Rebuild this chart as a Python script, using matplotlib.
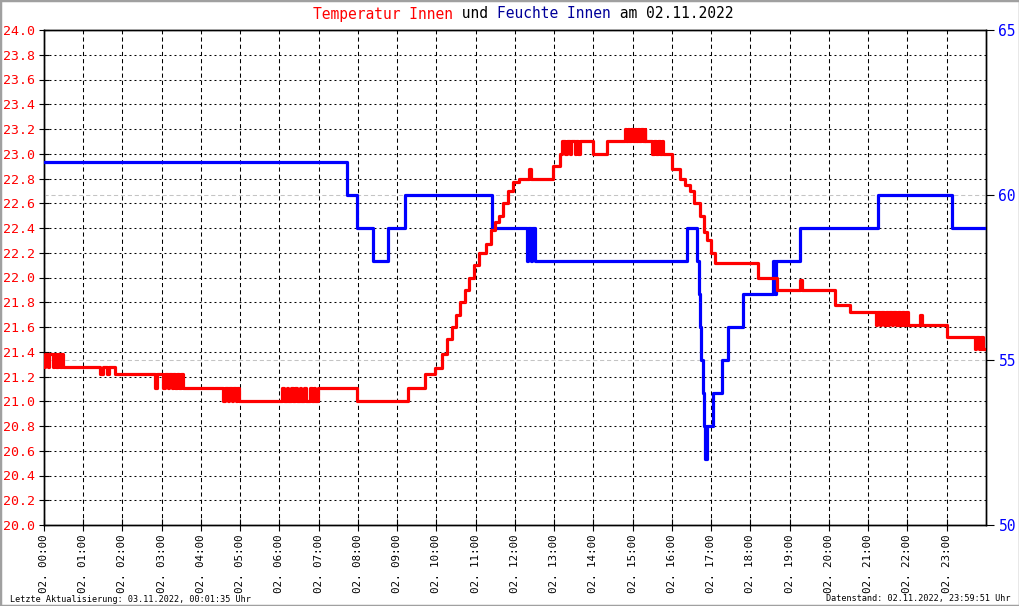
import matplotlib
matplotlib.use("Agg")
import matplotlib.pyplot as plt
from matplotlib.transforms import offset_copy
from matplotlib.patches import Rectangle

# Temperatur Innen (Grad C), Zeit in Minuten seit 00:00, Stufenverlauf
temp_min = [0, 1, 6, 8, 13, 15, 19, 21, 25, 27, 29,
            86, 90, 97, 100, 109,
            170, 172, 182, 185, 189, 191, 195, 197, 201, 203, 207, 209, 213,
            274, 277, 281, 283, 287, 289, 293, 295, 298,
            364, 367, 371, 373, 377, 380, 384, 386, 391, 393, 397, 400, 407, 409, 413, 415, 419,
            479, 557, 583, 598, 609, 616, 624, 630, 636, 644, 650, 657, 665,
            676, 683, 690, 696, 702, 709, 717, 726, 741, 745,
            778, 789, 792, 797, 799, 804, 806, 811, 813, 817, 819,
            839, 861, 888, 890, 893, 895, 898, 900, 903, 905, 908, 910, 913, 915, 918, 919,
            930, 932, 936, 938, 942, 944, 947,
            960, 972, 980, 988, 994, 1003, 1009, 1014, 1020, 1026,
            1092, 1121, 1156, 1159, 1209, 1232,
            1272, 1274, 1278, 1280, 1284, 1287, 1290, 1292, 1296, 1298, 1302, 1305, 1309, 1311, 1315, 1317, 1321,
            1339, 1342, 1381, 1423, 1425, 1430, 1432, 1436, 1440]
temp_val = [21.28, 21.38, 21.28, 21.38, 21.28, 21.38, 21.28, 21.38, 21.28, 21.38, 21.28,
            21.22, 21.28, 21.22, 21.28, 21.22,
            21.11, 21.22, 21.11, 21.22, 21.11, 21.22, 21.11, 21.22, 21.11, 21.22, 21.11, 21.22, 21.11,
            21.0, 21.11, 21.0, 21.11, 21.0, 21.11, 21.0, 21.11, 21.0,
            21.11, 21.0, 21.11, 21.0, 21.11, 21.0, 21.11, 21.0, 21.11, 21.0, 21.11, 21.0, 21.11, 21.0, 21.11, 21.0, 21.11,
            21.0, 21.11, 21.22, 21.27, 21.38, 21.5, 21.6, 21.7, 21.8, 21.9, 22.0, 22.1, 22.2,
            22.27, 22.38, 22.45, 22.5, 22.6, 22.7, 22.77, 22.8, 22.88, 22.8,
            22.9, 23.0, 23.1, 23.0, 23.1, 23.0, 23.1, 23.0, 23.1, 23.0, 23.1,
            23.0, 23.1, 23.2, 23.1, 23.2, 23.1, 23.2, 23.1, 23.2, 23.1, 23.2, 23.1, 23.2, 23.1, 23.2, 23.1,
            23.0, 23.1, 23.0, 23.1, 23.0, 23.1, 23.0,
            22.88, 22.8, 22.75, 22.7, 22.6, 22.5, 22.37, 22.3, 22.2, 22.12,
            22.0, 21.9, 21.98, 21.9, 21.78, 21.72,
            21.62, 21.72, 21.62, 21.72, 21.62, 21.72, 21.62, 21.72, 21.62, 21.72, 21.62, 21.72, 21.62, 21.72, 21.62, 21.72, 21.62,
            21.7, 21.62, 21.52, 21.42, 21.52, 21.42, 21.52, 21.42, 21.42]

# Feuchte Innen (%)
hum_min = [0, 463, 479, 503, 526, 552, 685,
           738, 740, 744, 746, 750,
           983, 998, 1001, 1003, 1005, 1007, 1009, 1011, 1013, 1015,
           1023, 1037, 1046, 1069, 1115, 1117, 1119, 1156, 1275, 1388, 1440]
hum_val = [61, 60, 59, 58, 59, 60, 59,
           58, 59, 58, 59, 58,
           59, 58, 57, 56, 55, 54, 53, 52, 53, 53,
           54, 55, 56, 57, 58, 57, 58, 59, 60, 59, 59]

hour_ticks = list(range(0, 1440, 60))
hour_labels = ["02. %02d:00" % h for h in range(24)]
temp_ticks = [round(20 + 0.2 * i, 1) for i in range(21)]
hum_ticks = [50, 55, 60, 65]

title_parts = [("Temperatur Innen", "#ff0000"), (" und ", "black"),
               ("Feuchte Innen", "#000099"), (" am 02.11.2022", "black")]

plt.rcParams['font.family'] = 'DejaVu Sans Mono'
plt.rcParams['lines.scale_dashes'] = False

fig = plt.figure(figsize=(10.2, 6.06), dpi=100)
ax = fig.add_axes([44 / 1020, 1 - 525 / 606, 942 / 1020, 495 / 606])
axh = ax.twinx()
axt = ax.twinx()

ax.set_xlim(0, 1440)
ax.set_ylim(20, 24)
ax.set_xticks(hour_ticks)
ax.set_xticklabels(hour_labels)
ax.set_yticks(temp_ticks)
ax.set_yticklabels(["%.1f" % t for t in temp_ticks])
ax.grid(axis='x', color='black', lw=0.75, ls=(0, (3.0, 2.2)))
ax.grid(axis='y', color='black', lw=0.75, ls=(0, (1.4, 2.2)))
ax.tick_params(axis='y', labelcolor='#ff0000', direction='inout', length=7, labelsize=9.5, pad=3)
ax.tick_params(axis='x', direction='inout', length=8, labelsize=7.8, rotation=90, pad=3)

axh.set_ylim(50, 65)
axh.set_yticks(hum_ticks)
axh.tick_params(axis='y', labelcolor='#0000ff', direction='out', length=6, labelsize=10.5, pad=3)
for h in (55, 60):
    axh.axhline(h, color='#c4c4c4', lw=0.75, ls=(0, (3, 2)), zorder=1)
axh.step(hum_min, hum_val, where='post', color='#0000ff', lw=2.3, zorder=3)

axt.set_ylim(20, 24)
axt.set_axis_off()
axt.step(temp_min, temp_val, where='post', color='#ff0000', lw=2.3, zorder=3)

for a in (ax, axh):
    for s in a.spines.values():
        s.set_color('black')
        s.set_linewidth(1.0)

fs = 10.5
off = 0
for txt, col in title_parts:
    tr = offset_copy(fig.transFigure, fig=fig, x=off, y=0, units='points')
    fig.text(313 / 1020, 1 - 14 / 606, txt, color=col, fontsize=fs, ha='left', va='center', transform=tr)
    off += len(txt) * 0.602 * fs

fig.text(10 / 1020, 1 - 599 / 606, "Letzte Aktualisierung: 03.11.2022, 00:01:35 Uhr", fontsize=6.1, ha='left', va='center')
fig.text(1011 / 1020, 1 - 599 / 606, "Datenstand: 02.11.2022, 23:59:51 Uhr", fontsize=6.1, ha='right', va='center')

fig.add_artist(Rectangle((0, 0), 1, 1, transform=fig.transFigure, fill=False, edgecolor='#a0a0a0', lw=2.5))

fig.savefig("out.png", dpi=100)
